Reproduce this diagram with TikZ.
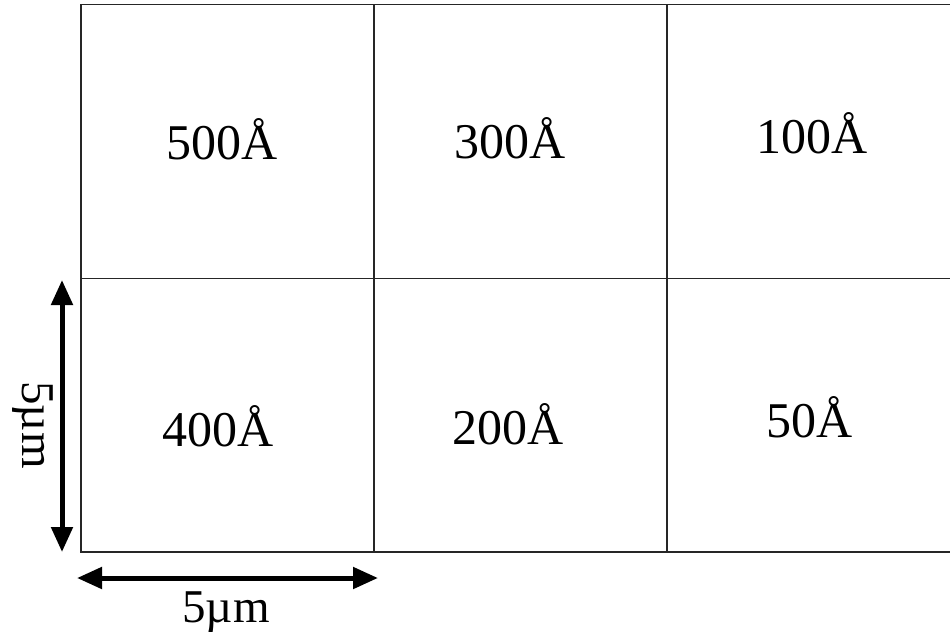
\documentclass[tikz,border=0pt]{standalone}
\usepackage{fontspec}
\setmainfont{Liberation Serif}
\usetikzlibrary{arrows.meta}

\begin{document}
\begin{tikzpicture}[
    x=1pt, y=-1pt,
    grid/.style={draw=black!85, line width=1.5pt},
    cell/.style={anchor=base, inner sep=0pt, font=\fontsize{50}{60}\selectfont},
    scalelabel/.style={anchor=base, inner sep=0pt, font=\fontsize{47}{56}\selectfont},
    scalearrow/.style={{Triangle[length=25pt, width=21pt]}-{Triangle[length=25pt, width=21pt]}, line width=5pt},
  ]
  \useasboundingbox (0,0) rectangle (950,632);

  % sample grid
  \draw[grid] (950,4.5) -- (81,4.5) -- (81,552) -- (950,552);
  \draw[grid] (81,278.5) -- (950,278.5);
  \draw[grid] (374,4.5) -- (374,552);
  \draw[grid] (667,4.5) -- (667,552);

  \node[cell] (t500) at (222,159) {500Å};
  \node[cell] (t300) at (510,158) {300Å};
  \node[cell] (t100) at (812,153) {100Å};
  \node[cell] (t400) at (218,446) {400Å};
  \node[cell] (t200) at (508,444) {200Å};
  \node[cell] (t50)  at (810,437) {50Å};

  % scale bars
  \coordinate (vtop) at (62,280);
  \coordinate (vbot) at (62,552);
  \coordinate (hleft) at (77,578);
  \coordinate (hright) at (378,578);
  \draw[scalearrow] (vtop) -- (vbot);
  \draw[scalearrow] (hleft) -- (hright);
  \node[scalelabel] (hlabel) at (226,622) {5µm};
  \node[scalelabel, rotate=-90] (vlabel) at (22,425) {5µm};
\end{tikzpicture}
\end{document}
